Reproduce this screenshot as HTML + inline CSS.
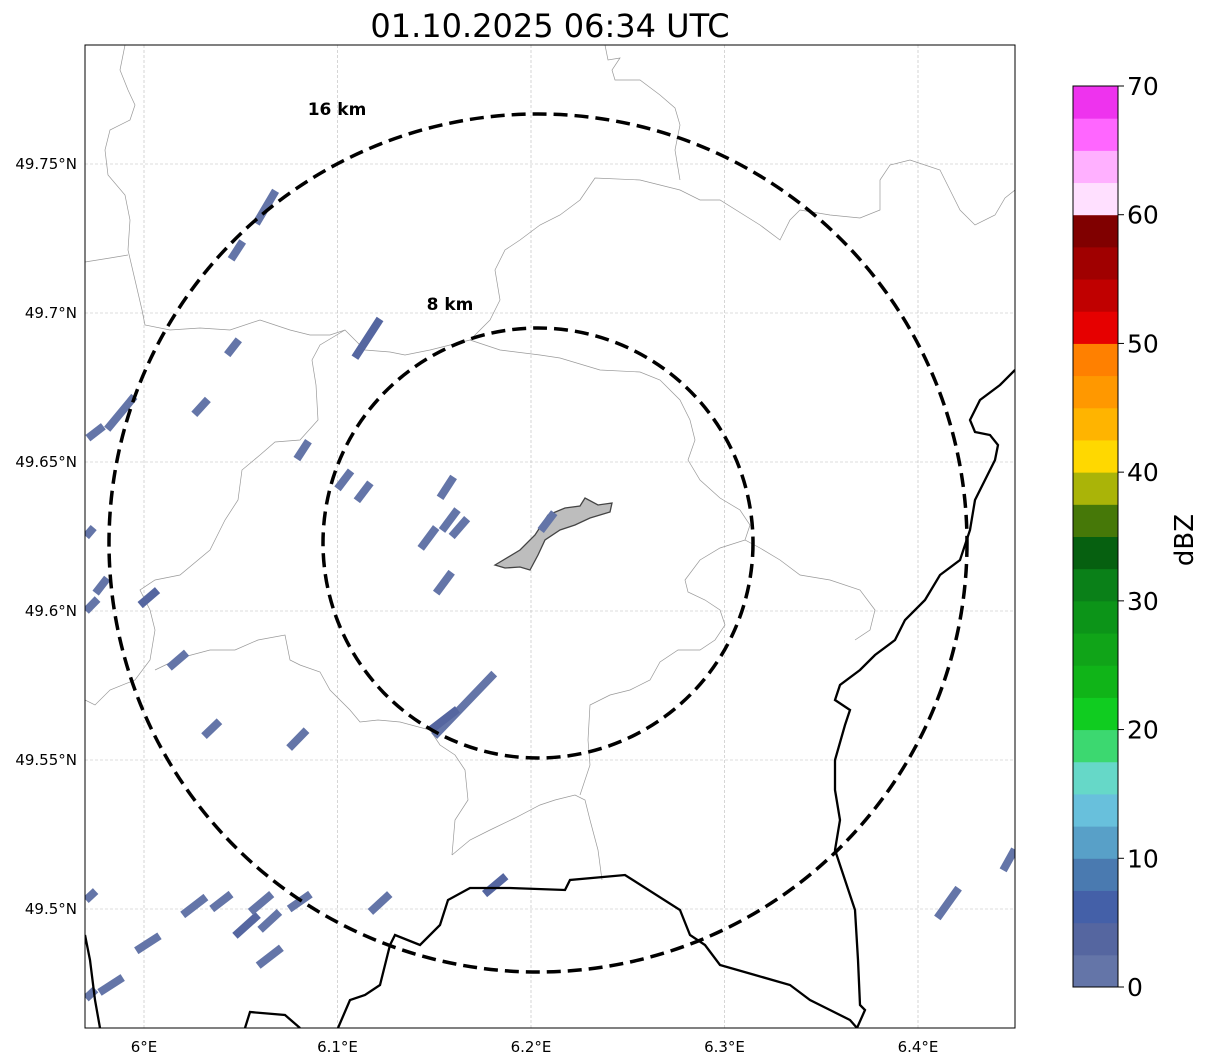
<!DOCTYPE html>
<html><head><meta charset="utf-8">
<style>
body{margin:0;background:#fff;}
svg{display:block;font-family:"DejaVu Sans","Liberation Sans",sans-serif;}
</style></head>
<body>
<svg id="chart" width="1207" height="1064" viewBox="0 0 1207 1064" xmlns="http://www.w3.org/2000/svg">
<text x="550" y="37" font-size="32" text-anchor="middle">01.10.2025 06:34 UTC</text>
<defs><clipPath id="mapclip"><rect x="85" y="45" width="930" height="983"/></clipPath></defs>
<rect x="85" y="45" width="930" height="983" fill="#fff"/>
<g id="grid"></g>
<g clip-path="url(#mapclip)">
<g fill="none" stroke="#999" stroke-width="0.7">
<polyline points="125,45 120,70 128,90 135,105 130,120 110,130 105,150 108,175 125,195 130,220 128,250 135,280 142,310 145,325 170,330 200,328 230,330 260,320 290,330 310,335 330,335 345,330 365,350 390,352 405,355 430,350 470,340 490,320 500,300 495,270 505,250 520,240 540,225 560,215 580,200 595,178 640,180 680,190 700,200 720,200 760,225 780,240 790,220 800,210 830,215 860,218 880,210 880,180 890,165 910,160 940,170 950,190 960,210 975,225 995,215 1005,198 1015,190"/>
<polyline points="85,262 110,258 128,255"/>
<polyline points="345,330 320,345 312,360 316,385 318,420 300,440 275,442 260,455 242,470 238,500 225,520 210,550 180,575 155,580 140,590 150,610 155,630 150,660 135,680 110,690 95,705 85,700"/>
<polyline points="155,670 180,658 210,650 235,650 258,640 285,635 290,660 300,665 320,672 330,690 350,710 360,722 378,720 400,722 430,730 440,745 455,755 465,770 468,800 455,820 452,855"/>
<polyline points="452,855 470,840 490,830 515,818 540,805 555,800 575,795 585,800 590,820 598,850 602,880"/>
<polyline points="580,795 590,765 588,740 590,705 610,695 630,690 650,680 660,662 678,650 700,650 715,640 725,625 720,610 705,600 688,592 685,580 700,560 720,548 745,540 760,548 780,560 800,575 830,580 860,590 875,610 870,630 855,640"/>
<polyline points="470,340 500,350 540,355 560,358 600,370 640,372 660,380 680,400 690,420 695,440 688,460 700,480 720,498 740,510 750,525 745,540"/>
<polyline points="605,45 608,60 620,58 612,70 615,80 640,80 660,95 675,108 680,125 675,150 680,180"/>
</g>
<g>
<polygon points="495,565 520,550 535,535 548,515 565,508 580,506 585,498 598,505 612,503 610,512 590,518 575,525 560,530 545,540 538,555 530,570 520,567 505,568" fill="#bdbdbd" stroke="#444" stroke-width="1.3"/>
</g>
<g id="echoes"></g>
<g fill="none" stroke="#000" stroke-width="2.3">
<polyline points="1015,370 1000,385 980,400 970,420 975,432 990,435 998,445 995,460 985,480 975,500 970,530 960,560 940,575 925,600 905,620 895,640 875,655 860,670 840,685 835,700 850,710 845,725 835,760 835,790 840,820 835,850 845,880 855,910 858,960 860,1005 865,1010 857,1028"/>
<polyline points="338,1028 350,1000 365,995 380,985 390,945 395,935 420,945 440,925 448,900 470,888 510,888 565,890 570,880 625,875 680,910 690,935 705,945 720,965 755,975 790,985 810,1000 830,1010 850,1020 857,1028"/>
<polyline points="85,935 90,960 95,1000 100,1028"/>
<polyline points="245,1028 250,1012 285,1015 300,1028"/>
</g>
<g fill="none" stroke="#000" stroke-width="3.5" stroke-dasharray="14,7">
<circle cx="538" cy="543" r="429"/>
<circle cx="538" cy="543" r="215"/>
</g>
</g>
<text x="337" y="115" font-size="17" font-weight="bold" text-anchor="middle">16 km</text>
<text x="450" y="310" font-size="17" font-weight="bold" text-anchor="middle">8 km</text>
<rect x="85" y="45" width="930" height="983" fill="none" stroke="#000" stroke-width="1"/>
<g id="ticks" font-size="15"></g>
<g id="cbar"></g>
<text transform="translate(1193,540) rotate(-90)" font-size="26" text-anchor="middle">dBZ</text>
</svg>
<script>
const lonTicks=[6.0,6.1,6.2,6.3,6.4];
const lonLabels=["6°E","6.1°E","6.2°E","6.3°E","6.4°E"];
const latTicks=[49.5,49.55,49.6,49.65,49.7,49.75];
const latLabels=["49.5°N","49.55°N","49.6°N","49.65°N","49.7°N","49.75°N"];
const echoStart=[[6.058,49.730],[6.045,49.718],[6.043,49.686],[6.109,49.685],[6.026,49.666],[5.971,49.658],[5.981,49.661],[6.079,49.651],[6.100,49.641],[6.110,49.637],[6.153,49.638],[6.143,49.621],[6.154,49.627],[6.159,49.625],[6.151,49.606],[5.970,49.625],[5.970,49.600],[5.975,49.606],[5.998,49.602],[6.013,49.581],[6.031,49.558],[6.075,49.554],[6.150,49.558],[6.148,49.560],[6.176,49.505],[5.970,49.503],[5.970,49.470],[5.977,49.472],[5.996,49.486],[6.020,49.498],[6.035,49.500],[6.047,49.491],[6.055,49.499],[6.060,49.493],[6.059,49.481],[6.075,49.500],[6.117,49.499],[6.410,49.497],[6.444,49.513],[6.205,49.627]];
const echoEnd=[[6.068,49.741],[6.051,49.724],[6.049,49.691],[6.122,49.698],[6.033,49.671],[5.979,49.662],[5.995,49.672],[6.085,49.657],[6.107,49.647],[6.117,49.643],[6.160,49.645],[6.151,49.628],[6.162,49.634],[6.167,49.631],[6.159,49.613],[5.974,49.628],[5.976,49.604],[5.981,49.611],[6.007,49.607],[6.022,49.586],[6.039,49.563],[6.084,49.560],[6.181,49.579],[6.162,49.567],[6.187,49.511],[5.975,49.506],[5.975,49.473],[5.989,49.477],[6.008,49.491],[6.032,49.504],[6.045,49.505],[6.059,49.498],[6.066,49.505],[6.070,49.499],[6.071,49.487],[6.086,49.505],[6.127,49.505],[6.421,49.507],[6.450,49.520],[6.212,49.633]];
const echoDbz=[2,2,2,3,2,2,2,2,2,2,2,2,2,2,2,2,2,2,3,2,2,2,2,3,3,2,2,2,2,2,2,3,2,2,2,2,2,2,2,2];
const cbarLevels=[0,2.5,5,7.5,10,12.5,15,17.5,20,22.5,25,27.5,30,32.5,35,37.5,40,42.5,45,47.5,50,52.5,55,57.5,60,62.5,65,67.5,70];
const cbarColors=["#6475a8","#5566a0","#4460a8","#4a7ab0","#58a0c8","#68c0dc","#66d8c8","#3cd870","#10cc20","#10b418","#10a418","#0c9418","#0a8018","#066010","#467808","#aab408","#ffd800","#ffb400","#ff9800","#ff8000","#e60000","#c00000","#a00000","#800000","#ffe0ff","#ffb0ff","#ff66ff","#ee33ee"];
const cbarTicks=[0,10,20,30,40,50,60,70];

const NS="http://www.w3.org/2000/svg";
const xS=lon=>144+(lon-6.0)*1935;
const yS=lat=>909-(lat-49.5)*2980;
const cY=v=>987-(v/70)*901;
function mk(tag,attrs,parent){const e=document.createElementNS(NS,tag);for(const k in attrs)e.setAttribute(k,attrs[k]);parent.appendChild(e);return e;}
const grid=document.getElementById('grid'),ticks=document.getElementById('ticks');
lonTicks.forEach((v,i)=>{
  const l=mk('line',{x1:xS(v),x2:xS(v),y1:45,y2:1028,stroke:'#bbb','stroke-width':0.6,'stroke-dasharray':'3,2'},grid);
  
  
  const t=mk('text',{x:xS(v),y:1052,'text-anchor':'middle'},ticks);t.textContent=lonLabels[i];
  
  
});
latTicks.forEach((v,i)=>{
  const l=mk('line',{x1:85,x2:1015,y1:yS(v),y2:yS(v),stroke:'#bbb','stroke-width':0.6,'stroke-dasharray':'3,2'},grid);
  
  
  const t=mk('text',{x:77,y:yS(v)+5,'text-anchor':'end'},ticks);t.textContent=latLabels[i];
  
  
});
const eg=document.getElementById('echoes');
echoStart.forEach((s,i)=>{
  const e=echoEnd[i];
  const c=cbarColors[Math.min(cbarColors.length-1,Math.floor(echoDbz[i]/2.5))];
  const l=mk('line',{x1:xS(s[0]),y1:yS(s[1]),x2:xS(e[0]),y2:yS(e[1]),stroke:c,'stroke-width':8,'stroke-linecap':'butt'},eg);
  
  
});
const cb=document.getElementById('cbar');
cbarColors.forEach((c,i)=>{
  const y1=cY(cbarLevels[i+1]),y0=cY(cbarLevels[i]);
  const r=mk('rect',{x:1073,y:y1,width:45,height:y0-y1+0.5,fill:c},cb);
  
  
});
const fr=mk('rect',{x:1073,y:cY(70),width:45,height:cY(0)-cY(70),fill:'none',stroke:'#000','stroke-width':1},cb);


cbarTicks.forEach(v=>{
  const l=mk('line',{x1:1118,x2:1124,y1:cY(v),y2:cY(v),stroke:'#000'},cb);
  
  
  const t=mk('text',{x:1127,y:cY(v)+9,'font-size':25},cb);t.textContent=v;
  
  
});
</script>
</body></html>
